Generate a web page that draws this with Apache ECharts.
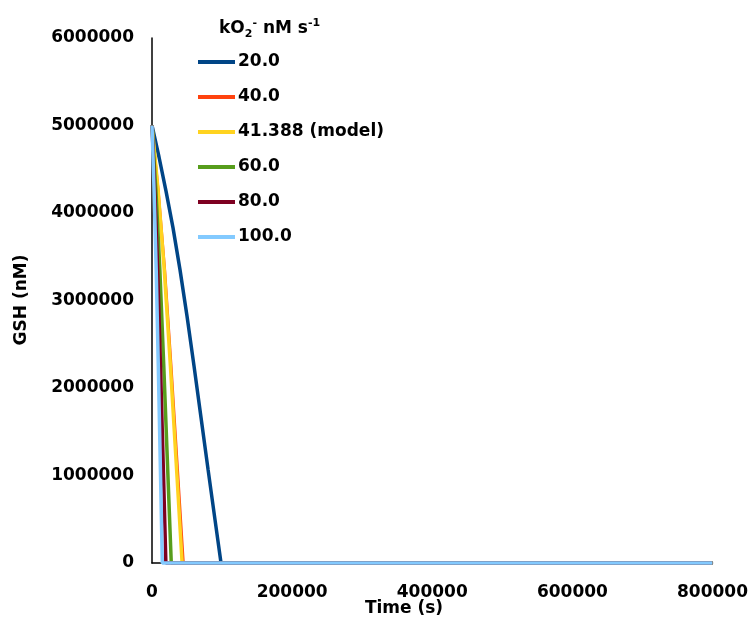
<!DOCTYPE html>
<html>
<head>
<meta charset="utf-8">
<script src="https://cdn.jsdelivr.net/npm/echarts@6/dist/echarts.min.js"></script>
<style>html,body{margin:0;padding:0;background:#fff}#c{width:751px;height:624px}</style>
</head>
<body>
<div id="c"></div>
<script>
// Series names (kO2- rate, nM s-1)
const seriesNames = ['20.0', '40.0', '41.388 (model)', '60.0', '80.0', '100.0'];
const seriesColors = ['#004586', '#ff420e', '#ffd320', '#579d1c', '#7e0021', '#83caff'];
// Time (s) and GSH (nM) values
const t20 = [0, 10000, 20000, 30000, 40000, 50000, 60000, 70000, 80000, 90000, 98500, 800000];
const g20 = [5000000, 4640000, 4250000, 3830000, 3350000, 2820000, 2250000, 1660000, 1070000, 490000, 0, 0];
const t40 = [0, 9200, 18400, 27500, 36700, 45000, 800000];
const g40 = [5000000, 4250000, 3350000, 2250000, 1070000, 0, 0];
const t41 = [0, 8800, 17500, 26300, 35100, 43000, 800000];
const g41 = [5000000, 4250000, 3350000, 2250000, 1070000, 0, 0];
const t60 = [0, 5600, 11200, 16800, 22400, 27500, 800000];
const g60 = [5000000, 4250000, 3350000, 2250000, 1070000, 0, 0];
const t80 = [0, 4000, 8100, 12100, 16200, 19800, 800000];
const g80 = [5000000, 4250000, 3350000, 2250000, 1070000, 0, 0];
const t100 = [0, 3000, 6000, 9000, 12000, 14700, 800000];
const g100 = [5000000, 4250000, 3350000, 2250000, 1070000, 0, 0];

const allT = [t20, t40, t41, t60, t80, t100];
const allG = [g20, g40, g41, g60, g80, g100];
const widths = [3.5, 2.5, 3.5, 3.5, 3.5, 3.5];

const FONT = 'DejaVu Sans';
const chart = echarts.init(document.getElementById('c'), null, {renderer: 'canvas'});
const series = seriesNames.map((n, i) => ({
  name: n,
  type: 'line',
  showSymbol: false,
  symbol: 'none',
  clip: false,
  data: allT[i].map((t, k) => [t, allG[i][k]]),
  lineStyle: {color: seriesColors[i], width: widths[i]},
  itemStyle: {color: seriesColors[i]},
  z: 2 + i,
  animation: false
}));

chart.setOption({
  animation: false,
  backgroundColor: '#fff',
  grid: {left: 152, right: 38, top: 38, bottom: 61, containLabel: false},
  xAxis: {
    type: 'value', min: 0, max: 800000, interval: 200000,
    axisLine: {show: true, lineStyle: {color: '#000', width: 1.5}},
    axisTick: {show: false},
    splitLine: {show: false},
    axisLabel: {color: '#000', fontFamily: FONT, fontWeight: 'bold', fontSize: 17, margin: 21, formatter: v => String(v)}
  },
  yAxis: {
    type: 'value', min: 0, max: 6000000, interval: 1000000,
    axisLine: {show: true, lineStyle: {color: '#000', width: 1.5}},
    axisTick: {show: false},
    splitLine: {show: false},
    axisLabel: {color: '#000', fontFamily: FONT, fontWeight: 'bold', fontSize: 17, margin: 18, formatter: v => String(v)}
  },
  legend: {
    data: seriesNames,
    orient: 'vertical',
    left: 198, top: 52,
    padding: 0,
    itemWidth: 37, itemHeight: 4,
    itemGap: 15,
    icon: 'rect',
    textStyle: {color: '#000', fontFamily: FONT, fontWeight: 'bold', fontSize: 17, lineHeight: 20, padding: [0,0,0,-2]}
  },
  graphic: [
    {type: 'text', left: 219, top: 17, style: {
      text: '{a|kO}{sub|2}{sup|-}{a| nM s}{sup|-1}',
      rich: {
        a: {fontFamily: FONT, fontWeight: 'bold', fontSize: 17, fill: '#000', lineHeight: 24, verticalAlign: 'middle'},
        sub: {fontFamily: FONT, fontWeight: 'bold', fontSize: 11, fill: '#000', lineHeight: 24, padding: [12, 0, 0, 0]},
        sup: {fontFamily: FONT, fontWeight: 'bold', fontSize: 11, fill: '#000', lineHeight: 24, padding: [0, 0, 10, 0]}
      }
    }},
    {type: 'text', x: 404, y: 609, style: {text: 'Time (s)', fontFamily: FONT, fontWeight: 'bold', fontSize: 17, fill: '#000', align: 'center', verticalAlign: 'middle'}},
    {type: 'text', x: 22, y: 300, rotation: Math.PI / 2, style: {text: 'GSH (nM)', fontFamily: FONT, fontWeight: 'bold', fontSize: 17, fill: '#000', align: 'center', verticalAlign: 'middle'}}
  ],
  series: series
});
</script>
</body>
</html>
